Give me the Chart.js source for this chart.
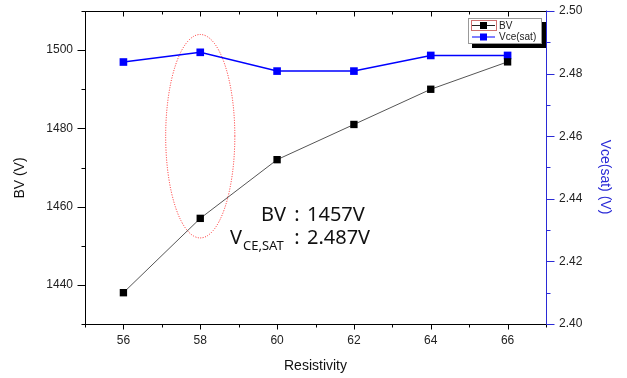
<!DOCTYPE html>
<html>
<head>
<meta charset="utf-8">
<script src="https://cdn.jsdelivr.net/npm/chart.js@4.4.0/dist/chart.umd.min.js"></script>
<style>
html, body { margin: 0; padding: 0; background: #fff; }
</style>
</head>
<body>
<canvas id="chart" width="627" height="378"></canvas>
<script>
// data
const resistivity = [56, 58, 60, 62, 64, 66]
const bv = [1438, 1457, 1472, 1481, 1490, 1497]
const vceSat = [2.4837, 2.4868, 2.4808, 2.4808, 2.4858, 2.4858]

const xTicks = [56, 58, 60, 62, 64, 66]
const bvTicks = [1440, 1460, 1480, 1500]
const vceTicks = [2.40, 2.42, 2.44, 2.46, 2.48, 2.50]

const BLUE = '#0000ff'
const AXIS_BLUE = '#2a2ad6'
const SANS = '"Liberation Sans", Arial, sans-serif'
const TICK_FONT = { family: SANS, size: 12 }

function ticksFrom(arr) {
    return function (scale) { scale.ticks = arr.map(v => ({ value: v })) }
}

function fitWidth(w) {
    return function (s) {
        s.width = w
        s.paddingTop = 0
        s.paddingBottom = 0
    }
}

// axes lines + major/minor tick marks (Origin style)
const framePlugin = {
    id: 'frame',
    beforeDatasetsDraw(chart) {
        const ctx = chart.ctx
        const a = chart.chartArea
        const x = chart.scales.x, y = chart.scales.y, y1 = chart.scales.y1
        const L = Math.round(a.left) + 0.5, R = Math.round(a.right) + 0.5
        const T = Math.round(a.top) + 0.5, B = Math.round(a.bottom) + 0.5
        ctx.save()
        ctx.lineWidth = 1
        ctx.strokeStyle = '#000'
        ctx.beginPath()
        ctx.moveTo(L, T); ctx.lineTo(R, T)
        ctx.moveTo(L, T); ctx.lineTo(L, B + 1)
        ctx.moveTo(L - 1, B); ctx.lineTo(R, B)
        // x ticks: bottom outward, top inward
        for (let v = x.min; v <= x.max; v++) {
            const len = xTicks.includes(v) ? 5 : 3
            const px = Math.round(x.getPixelForValue(v)) + 0.5
            ctx.moveTo(px, B); ctx.lineTo(px, B + len)
            ctx.moveTo(px, T); ctx.lineTo(px, T + len)
        }
        // left y ticks
        for (let v = y.min; v <= y.max; v += 10) {
            const len = bvTicks.includes(v) ? 8 : 4
            const py = Math.round(y.getPixelForValue(v)) + 0.5
            ctx.moveTo(L, py); ctx.lineTo(L - len, py)
        }
        ctx.stroke()
        // right axis in blue
        ctx.strokeStyle = AXIS_BLUE
        ctx.beginPath()
        ctx.moveTo(R, T - 1); ctx.lineTo(R, B)
        for (let i = 0; i <= 10; i++) {
            const v = Math.round((y1.min + i * 0.01) * 100) / 100
            const len = (i % 2 === 0) ? 8 : 4
            const py = Math.round(y1.getPixelForValue(v)) + 0.5
            ctx.moveTo(R, py); ctx.lineTo(R + len, py)
        }
        ctx.stroke()

        // red dotted ellipse around the 58 point
        const cx = x.getPixelForValue(58)
        const rx = x.getPixelForValue(58.9) - cx
        const top = y.getPixelForValue(1504), bot = y.getPixelForValue(1452)
        ctx.strokeStyle = '#ff2020'
        ctx.setLineDash([1, 1.5])
        ctx.beginPath()
        ctx.ellipse(cx, (top + bot) / 2, rx, (bot - top) / 2, 0, 0, Math.PI * 2)
        ctx.stroke()
        ctx.restore()
    },
    afterDraw(chart) {
        const ctx = chart.ctx
        const a = chart.chartArea
        ctx.save()
        // axis titles
        ctx.font = '14px ' + SANS
        ctx.textAlign = 'center'
        ctx.textBaseline = 'middle'
        ctx.fillStyle = '#111'
        ctx.fillText('Resistivity', (a.left + a.right) / 2, 366)
        ctx.save()
        ctx.translate(20, 178)
        ctx.rotate(-Math.PI / 2)
        ctx.fillText('BV (V)', 0, 0)
        ctx.restore()
        ctx.save()
        ctx.fillStyle = AXIS_BLUE
        ctx.translate(605, 177)
        ctx.rotate(Math.PI / 2)
        ctx.fillText('Vce(sat) (V)', 0, 0)
        ctx.restore()

        // legend box with black drop shadow
        const lx = Math.round(a.right) - 78, ly = Math.round(a.top) + 7, lw = 73, lh = 25
        ctx.fillStyle = 'rgb(0,0,0)'
        ctx.fillRect(lx + lw, ly + 4, 5, lh + 1)
        ctx.fillRect(lx + 4, ly + lh, lw + 1, 5)
        ctx.fillStyle = '#fff'
        ctx.fillRect(lx, ly, lw, lh)
        ctx.strokeStyle = '#999'
        ctx.lineWidth = 1
        ctx.strokeRect(lx + 0.5, ly + 0.5, lw, lh)
        const items = [
            { label: 'BV', line: '#222', fill: '#000' },
            { label: 'Vce(sat)', line: BLUE, fill: BLUE }
        ]
        ctx.font = '10px ' + SANS
        ctx.textAlign = 'left'
        items.forEach((it, i) => {
            const cy = ly + 7.5 + i * 11.5
            ctx.strokeStyle = it.line
            ctx.beginPath()
            ctx.moveTo(lx + 4, cy); ctx.lineTo(lx + 27, cy)
            ctx.stroke()
            ctx.fillStyle = it.fill
            ctx.fillRect(lx + 12, cy - 3.5, 7, 7)
            ctx.fillStyle = '#222'
            ctx.fillText(it.label, lx + 31, cy + 0.5)
        })
        ctx.strokeStyle = '#d07070'
        ctx.strokeRect(lx + 3.5, ly + 2.5, 25, 10)

        // annotation text
        ctx.fillStyle = '#111'
        ctx.textBaseline = 'alphabetic'
        ctx.font = '20px "Noto Sans", sans-serif'
        ctx.fillText('BV', 261, 221)
        ctx.fillText('1457V', 307, 221)
        ctx.fillText('V', 230, 244)
        ctx.fillText('2.487V', 307, 244)
        ctx.textAlign = 'center'
        ctx.fillText(':', 297, 221)
        ctx.fillText(':', 297, 244)
        ctx.textAlign = 'left'
        ctx.font = '13px "Noto Sans", sans-serif'
        ctx.fillText('CE,SAT', 243, 250)
        ctx.restore()
    }
}

const data = {
    datasets: [
        {
            label: 'BV',
            data: resistivity.map((r, i) => ({ x: r, y: bv[i] })),
            yAxisID: 'y',
            borderColor: '#555',
            borderWidth: 1,
            backgroundColor: '#000',
            pointStyle: 'rect',
            pointRadius: 5.2,
            pointBorderWidth: 0,
            pointBackgroundColor: '#000'
        },
        {
            label: 'Vce(sat)',
            data: resistivity.map((r, i) => ({ x: r, y: vceSat[i] })),
            yAxisID: 'y1',
            borderColor: BLUE,
            borderWidth: 1.5,
            backgroundColor: BLUE,
            pointStyle: 'rect',
            pointRadius: 5.4,
            pointBorderWidth: 0,
            pointBackgroundColor: BLUE
        }
    ]
}

const config = {
    type: 'line',
    data: data,
    options: {
        responsive: false,
        animation: false,
        layout: { padding: { top: 11, left: 0, right: 0, bottom: 0 } },
        plugins: { legend: { display: false }, tooltip: { enabled: false } },
        scales: {
            x: {
                type: 'linear',
                min: 55, max: 67,
                afterBuildTicks: ticksFrom(xTicks),
                afterFit: s => { s.height = 54; s.paddingLeft = 0; s.paddingRight = 0 },
                grid: { display: false, drawTicks: false },
                border: { display: false },
                ticks: { font: TICK_FONT, color: '#222', padding: 9 }
            },
            y: {
                position: 'left',
                min: 1430, max: 1510,
                afterBuildTicks: ticksFrom(bvTicks),
                afterFit: fitWidth(85),
                grid: { display: false, drawTicks: false },
                border: { display: false },
                ticks: { font: TICK_FONT, color: '#222', padding: 12, callback: v => String(v) }
            },
            y1: {
                position: 'right',
                min: 2.40, max: 2.50,
                afterBuildTicks: ticksFrom(vceTicks),
                afterFit: fitWidth(81),
                grid: { display: false, drawTicks: false },
                border: { display: false },
                ticks: { font: TICK_FONT, color: '#222', padding: 13, callback: v => v.toFixed(2) }
            }
        }
    },
    plugins: [framePlugin]
}

new Chart(document.getElementById('chart'), config)
</script>
</body>
</html>
